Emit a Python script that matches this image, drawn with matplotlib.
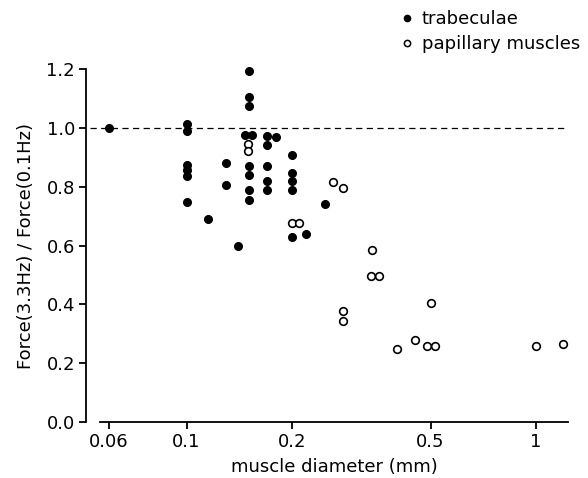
import matplotlib
matplotlib.use("Agg")
import matplotlib.pyplot as plt
from matplotlib.lines import Line2D

# trabeculae (filled)
trab_d = [0.06,
          0.1, 0.1, 0.1, 0.1, 0.1, 0.1,
          0.115, 0.13, 0.13, 0.14,
          0.151, 0.151, 0.151, 0.151, 0.151, 0.151, 0.151, 0.147, 0.154,
          0.17, 0.17, 0.17, 0.17, 0.17, 0.18,
          0.2, 0.2, 0.2, 0.2, 0.2, 0.22, 0.25]
trab_f = [1.0,
          1.015, 0.99, 0.876, 0.856, 0.836, 0.75,
          0.69, 0.88, 0.808, 0.60,
          1.195, 1.107, 1.076, 0.87, 0.842, 0.791, 0.757, 0.977, 0.977,
          0.972, 0.944, 0.870, 0.819, 0.788, 0.97,
          0.908, 0.847, 0.819, 0.791, 0.63, 0.64, 0.742]

# papillary muscles (open)
pap_d = [0.15, 0.15, 0.2, 0.21, 0.262, 0.28, 0.34, 0.337, 0.356,
         0.28, 0.28, 0.4, 0.45, 0.5, 0.49, 0.515, 1.0, 1.2]
pap_f = [0.947, 0.921, 0.676, 0.676, 0.817, 0.795, 0.586, 0.497, 0.497,
         0.376, 0.344, 0.247, 0.278, 0.406, 0.257, 0.257, 0.257, 0.266]

xticks = [0.06, 0.1, 0.2, 0.5, 1]
xtick_labels = ["0.06", "0.1", "0.2", "0.5", "1"]
yticks = [0.0, 0.2, 0.4, 0.6, 0.8, 1.0, 1.2]

plt.rcParams['font.family'] = ['DejaVu Sans']
fig = plt.figure(figsize=(5.88, 4.78), dpi=100)
ax = fig.add_axes([100 / 588, 1 - 422 / 478, 468 / 588, (422 - 69.3) / 478])

ax.plot(trab_d, trab_f, 'o', color='black', markersize=5.5, clip_on=False, zorder=3)
ax.plot(pap_d, pap_f, 'o', markerfacecolor='white', markeredgecolor='black',
        markeredgewidth=1.2, markersize=5.5, clip_on=False, zorder=3)

ax.set_xscale('log')
ax.set_xlim(0.0565, 1.238)
ax.set_ylim(0, 1.2)
ax.axhline(1.0, xmin=-10 / 468, xmax=1, color='black', lw=0.9,
           dashes=(5, 3.5), clip_on=False, zorder=1)

ax.set_xticks(xticks)
ax.set_xticklabels(xtick_labels)
ax.xaxis.set_minor_locator(matplotlib.ticker.NullLocator())
ax.set_yticks(yticks)
ax.set_yticklabels([f"{v:.1f}" for v in yticks])

for s in ['top', 'right']:
    ax.spines[s].set_visible(False)
ax.spines['left'].set_position(('outward', 10))
ax.spines['left'].set_linewidth(1.3)
ax.spines['bottom'].set_linewidth(1.3)
ax.tick_params(width=1.3, length=5, labelsize=13, pad=3)

ax.set_xlabel("muscle diameter (mm)", fontsize=13, labelpad=5)
ax.set_ylabel("Force(3.3Hz) / Force(0.1Hz)", fontsize=13, labelpad=8)

handles = [Line2D([], [], ls='none', marker='o', color='black', markersize=4.5),
           Line2D([], [], ls='none', marker='o', markerfacecolor='white',
                  markeredgecolor='black', markeredgewidth=1.1, markersize=4.5)]
fig.legend(handles, ["trabeculae", "papillary muscles"], loc='upper left',
           bbox_to_anchor=(391 / 588, 1 - 1 / 478), frameon=False, fontsize=13,
           handlelength=0.8, handletextpad=0.4, labelspacing=0.4, borderpad=0)

fig.savefig("out.png", dpi=100)
